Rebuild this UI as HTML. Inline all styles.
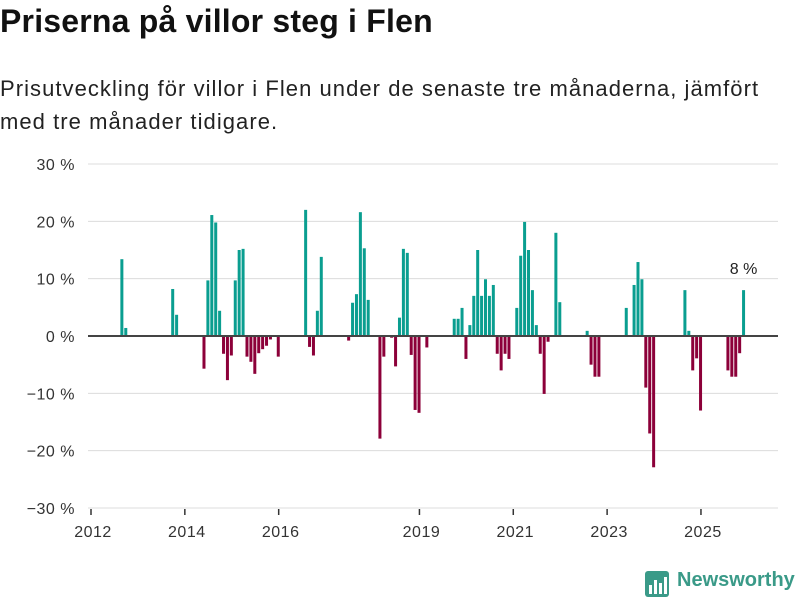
<!DOCTYPE html>
<html><head><meta charset="utf-8">
<style>
body{margin:0;width:800px;height:600px;background:#fff;font-family:"Liberation Sans",sans-serif;color:#111;position:relative;overflow:hidden}
h1{position:absolute;left:0;top:3px;margin:0;font-size:32px;font-weight:bold;letter-spacing:0.2px}
p.sub{position:absolute;left:0;top:72px;margin:0;font-size:22px;line-height:33px;color:#222;width:785px;letter-spacing:1.05px}
svg{position:absolute;left:0;top:0}
.logo{position:absolute;left:677px;top:569px;font-size:20px;font-weight:bold;color:#3a9a88}
</style></head>
<body>
<h1>Priserna på villor steg i Flen</h1>
<p class="sub">Prisutveckling för villor i Flen under de senaste tre månaderna, jämfört med tre månader tidigare.</p>
<svg id="chart" width="800" height="600"></svg>
<svg width="800" height="600" style="pointer-events:none">
<rect x="645" y="571" width="24" height="26" rx="3" fill="#3a9a88"/>
<rect x="649" y="585" width="3" height="9" fill="#fff"/><rect x="654" y="580" width="3" height="14" fill="#fff"/><rect x="659" y="583" width="3" height="11" fill="#fff"/><rect x="664" y="577" width="3" height="17" fill="#fff"/>
</svg>
<div class="logo">Newsworthy</div>
<script>
const months = ["2012-08","2012-09","2013-09","2013-10","2014-05","2014-06","2014-07","2014-08","2014-09","2014-10","2014-11","2014-12","2015-01","2015-02","2015-03","2015-04","2015-05","2015-06","2015-07","2015-08","2015-09","2015-10","2015-12",
"2016-07","2016-08","2016-09","2016-10","2016-11","2017-06","2017-07","2017-08","2017-09","2017-10","2017-11","2018-02","2018-03","2018-05","2018-06","2018-07","2018-08","2018-09","2018-10","2018-11","2018-12","2019-02",
"2019-09","2019-10","2019-11","2019-12","2020-01","2020-02","2020-03","2020-04","2020-05","2020-06","2020-07","2020-08","2020-09","2020-10","2020-11","2021-01","2021-02","2021-03","2021-04","2021-05","2021-06","2021-07","2021-08","2021-09","2021-11","2021-12",
"2022-07","2022-08","2022-09","2022-10","2023-05","2023-07","2023-08","2023-09","2023-10","2023-11","2023-12",
"2024-08","2024-09","2024-10","2024-11","2024-12","2025-07","2025-08","2025-09","2025-10","2025-11"];
const values = [13.4,1.4,8.2,3.7,-5.7,9.7,21.1,19.8,4.4,-3.1,-7.7,-3.4,9.7,15.0,15.2,-3.6,-4.5,-6.6,-3.0,-2.3,-1.7,-0.6,-3.6,
22.0,-1.9,-3.4,4.4,13.8,-0.8,5.8,7.3,21.6,15.3,6.3,-17.9,-3.6,-0.3,-5.3,3.2,15.2,14.5,-3.3,-12.9,-13.4,-2.0,
3.0,3.0,4.9,-4.0,1.9,7.0,15.0,7.0,9.9,7.0,8.9,-3.1,-6.0,-3.1,-4.0,4.9,14.0,19.9,15.0,8.0,1.9,-3.1,-10.1,-1.0,18.0,5.9,
0.9,-5.0,-7.1,-7.1,4.9,8.9,12.9,9.9,-9.0,-17.0,-22.9,
8.0,0.9,-6.0,-3.9,-13.0,-6.0,-7.1,-7.1,-3.0,8.0];
const yTicks = [30,20,10,0,-10,-20,-30];
const yLabels = ["30 %","20 %","10 %","0 %","\u221210 %","\u221220 %","\u221230 %"];
const xYears = [2012,2014,2016,2019,2021,2023,2025];

const svg = document.getElementById('chart');
const NS = 'http://www.w3.org/2000/svg';
const y = v => 336 - v * 5.733;
const xm = m => 93 + m * 3.91;
const xy = yr => 91 + (yr - 2012) * 46.92;
function mk(t, a){const e=document.createElementNS(NS,t);for(const k in a)e.setAttribute(k,a[k]);svg.appendChild(e);return e;}

yTicks.forEach((t,i)=>{
  if(t!==0 && t!==-30){
    const g=mk('line',{x1:88,x2:778,y1:y(t),y2:y(t),stroke:'#dcdcdc','stroke-width':1});
    
    
  }
  const l=mk('text',{x:75,y:y(t)+6,'text-anchor':'end','font-size':16,fill:'#333','font-family':'Liberation Sans, sans-serif','letter-spacing':'0.5'});
  l.textContent=yLabels[i];
  
  
});
const ax=mk('line',{x1:88,x2:778,y1:508,y2:508,stroke:'#dcdcdc','stroke-width':1});



months.forEach((s,i)=>{
  const [yy,mm]=s.split('-').map(Number);
  const m=(yy-2012)*12+(mm-1);
  const v=values[i];
  const r=mk('rect',{x:xm(m),y:Math.min(y(v),y(0)),width:3,height:Math.abs(y(v)-y(0)),fill:v>=0?'#0a9e90':'#8c0039'});
  
  
});
const z=mk('line',{x1:88,x2:778,y1:336,y2:336,stroke:'#444','stroke-width':2});



xYears.forEach(yr=>{
  const tk=mk('line',{x1:xy(yr),x2:xy(yr),y1:509,y2:515,stroke:'#333','stroke-width':1.5});
  
  
  const t=mk('text',{x:xy(yr)+2,y:537,'text-anchor':'middle','font-size':16,fill:'#333','font-family':'Liberation Sans, sans-serif','letter-spacing':'0.5'});
  t.textContent=yr;
  
  
});

const li=months.length-1;
const [ly,lm]=months[li].split('-').map(Number);
const lab=mk('text',{x:xm((ly-2012)*12+lm-1)+1.5,y:y(values[li])-16,'text-anchor':'middle','font-size':16,fill:'#222','font-family':'Liberation Sans, sans-serif'});
lab.textContent=Math.round(values[li])+' %';


</script>
</body></html>
